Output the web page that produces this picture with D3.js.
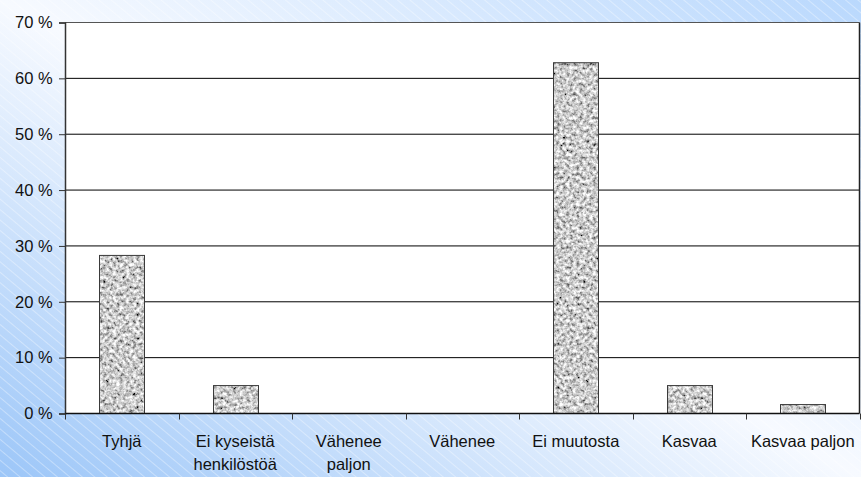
<!DOCTYPE html>
<html><head><meta charset="utf-8">
<script src="https://cdn.jsdelivr.net/npm/d3@7/dist/d3.min.js"></script>
<style>html,body{margin:0;padding:0;overflow:hidden;background:#fff}</style>
</head><body><svg id="c" width="861" height="477"></svg>
<script>
const categories = ["Tyhjä", "Ei kyseistä\nhenkilöstöä", "Vähenee\npaljon", "Vähenee", "Ei muutosta", "Kasvaa", "Kasvaa paljon"];
const values = [28.3, 5.0, 0, 0, 62.8, 5.0, 1.6];
const yTicks = [0, 10, 20, 30, 40, 50, 60, 70];
const yTickLabels = ["0 %", "10 %", "20 %", "30 %", "40 %", "50 %", "60 %", "70 %"];

const W = 861, H = 477;
const plot = {left: 65, right: 859.5, top: 22.5, bottom: 413.5};
const FONT = "'Liberation Sans', Arial, sans-serif";

const svg = d3.select("#c");
const defs = svg.append("defs");

// background gradient
const bg = defs.append("linearGradient").attr("id", "bgGrad")
  .attr("x1", 0).attr("y1", 1).attr("x2", 1).attr("y2", 0);
bg.append("stop").attr("offset", 0).attr("stop-color", "#9cc6f8");
bg.append("stop").attr("offset", 0.5).attr("stop-color", "#f7faff");
bg.append("stop").attr("offset", 1).attr("stop-color", "#b9d8fd");

const hatch = defs.append("pattern").attr("id", "hatch")
  .attr("patternUnits", "userSpaceOnUse").attr("width", 8).attr("height", 8)
  .attr("patternTransform", "rotate(40)");
hatch.append("line").attr("x1", 0).attr("x2", 8).attr("y1", 0.5).attr("y2", 0.5)
  .attr("stroke", "#ffffff").attr("stroke-opacity", 0.35).attr("stroke-width", 1);

// granite texture
const flt = defs.append("filter").attr("id", "noise")
  .attr("x", 0).attr("y", 0).attr("width", "100%").attr("height", "100%");
flt.append("feTurbulence").attr("type", "fractalNoise").attr("baseFrequency", 0.3)
  .attr("numOctaves", 3).attr("seed", 7).attr("result", "t");
flt.append("feColorMatrix").attr("in", "t").attr("type", "matrix")
  .attr("values", "1.7 0 0 0 -0.25  1.7 0 0 0 -0.25  1.7 0 0 0 -0.25  0 0 0 0 1");
const gran = defs.append("pattern").attr("id", "granite")
  .attr("patternUnits", "userSpaceOnUse").attr("width", 240).attr("height", 420);
gran.append("rect").attr("width", 240).attr("height", 420).attr("fill", "#aaa").attr("filter", "url(#noise)");

svg.append("rect").attr("width", W).attr("height", H).attr("fill", "url(#bgGrad)");
svg.append("rect").attr("width", W).attr("height", H).attr("fill", "url(#hatch)");

const x = d3.scaleBand().domain(categories).range([plot.left, plot.right])
  .paddingInner(0.6).paddingOuter(0.3);
const y = d3.scaleLinear().domain([0, 70]).range([plot.bottom, plot.top]);

// plot area
svg.append("rect").attr("x", plot.left).attr("y", plot.top)
  .attr("width", plot.right - plot.left).attr("height", plot.bottom - plot.top)
  .attr("fill", "#ffffff");

// gridlines
svg.append("g").selectAll("line").data(yTicks.filter(d => d > 0 && d < 70)).join("line")
  .attr("x1", plot.left).attr("x2", plot.right)
  .attr("y1", d => y(d)).attr("y2", d => y(d))
  .attr("stroke", "#000").attr("stroke-width", 1);

// bars
svg.append("g").selectAll("rect").data(values.map((v, i) => ({c: categories[i], v})).filter(d => d.v > 0))
  .join("rect")
  .attr("x", d => Math.round(x(d.c)) + 0.5)
  .attr("y", d => y(d.v))
  .attr("width", Math.round(x.bandwidth()))
  .attr("height", d => y(0) - y(d.v))
  .attr("fill", "url(#granite)")
  .attr("stroke", "#3a3a3a").attr("stroke-width", 1);

// frame top & right
svg.append("line").attr("x1", plot.left).attr("x2", plot.right).attr("y1", plot.top).attr("y2", plot.top)
  .attr("stroke", "#555").attr("stroke-width", 1.2);
svg.append("line").attr("x1", plot.right).attr("x2", plot.right).attr("y1", plot.top).attr("y2", plot.bottom)
  .attr("stroke", "#222").attr("stroke-width", 1.5);

// y axis
const yAxis = d3.axisLeft(y).tickValues(yTicks).tickSize(6).tickPadding(8)
  .tickFormat((d, i) => yTickLabels[i]);
const gy = svg.append("g").attr("transform", `translate(${plot.left},0)`).call(yAxis);
gy.select(".domain").attr("stroke", "#333").attr("stroke-width", 1.5);
gy.selectAll(".tick line").attr("stroke", "#333");
gy.selectAll(".tick text").attr("font-family", FONT).attr("font-size", "16.5px").attr("fill", "#111")
  .attr("dx", "0.1em");

// x axis
svg.append("line").attr("x1", plot.left).attr("x2", plot.right).attr("y1", plot.bottom).attr("y2", plot.bottom)
  .attr("stroke", "#111").attr("stroke-width", 1.5);
const step = (plot.right - plot.left) / categories.length;
svg.append("g").selectAll("line").data(d3.range(categories.length + 1)).join("line")
  .attr("x1", i => Math.round(plot.left + i * step) + 0.5).attr("x2", i => Math.round(plot.left + i * step) + 0.5)
  .attr("y1", plot.bottom).attr("y2", plot.bottom + 6)
  .attr("stroke", "#333").attr("stroke-width", 1);

const xl = svg.append("g").selectAll("text").data(categories).join("text")
  .attr("x", d => x(d) + x.bandwidth() / 2)
  .attr("y", 446.5)
  .attr("text-anchor", "middle")
  .attr("font-family", FONT).attr("font-size", "16.5px").attr("fill", "#111");
xl.each(function(d) {
  const lines = d.split("\n");
  const t = d3.select(this);
  lines.forEach((ln, j) => {
    t.append("tspan").attr("x", x(d) + x.bandwidth() / 2).attr("dy", j === 0 ? 0 : 23.5).text(ln);
  });
});
</script>
</body></html>
